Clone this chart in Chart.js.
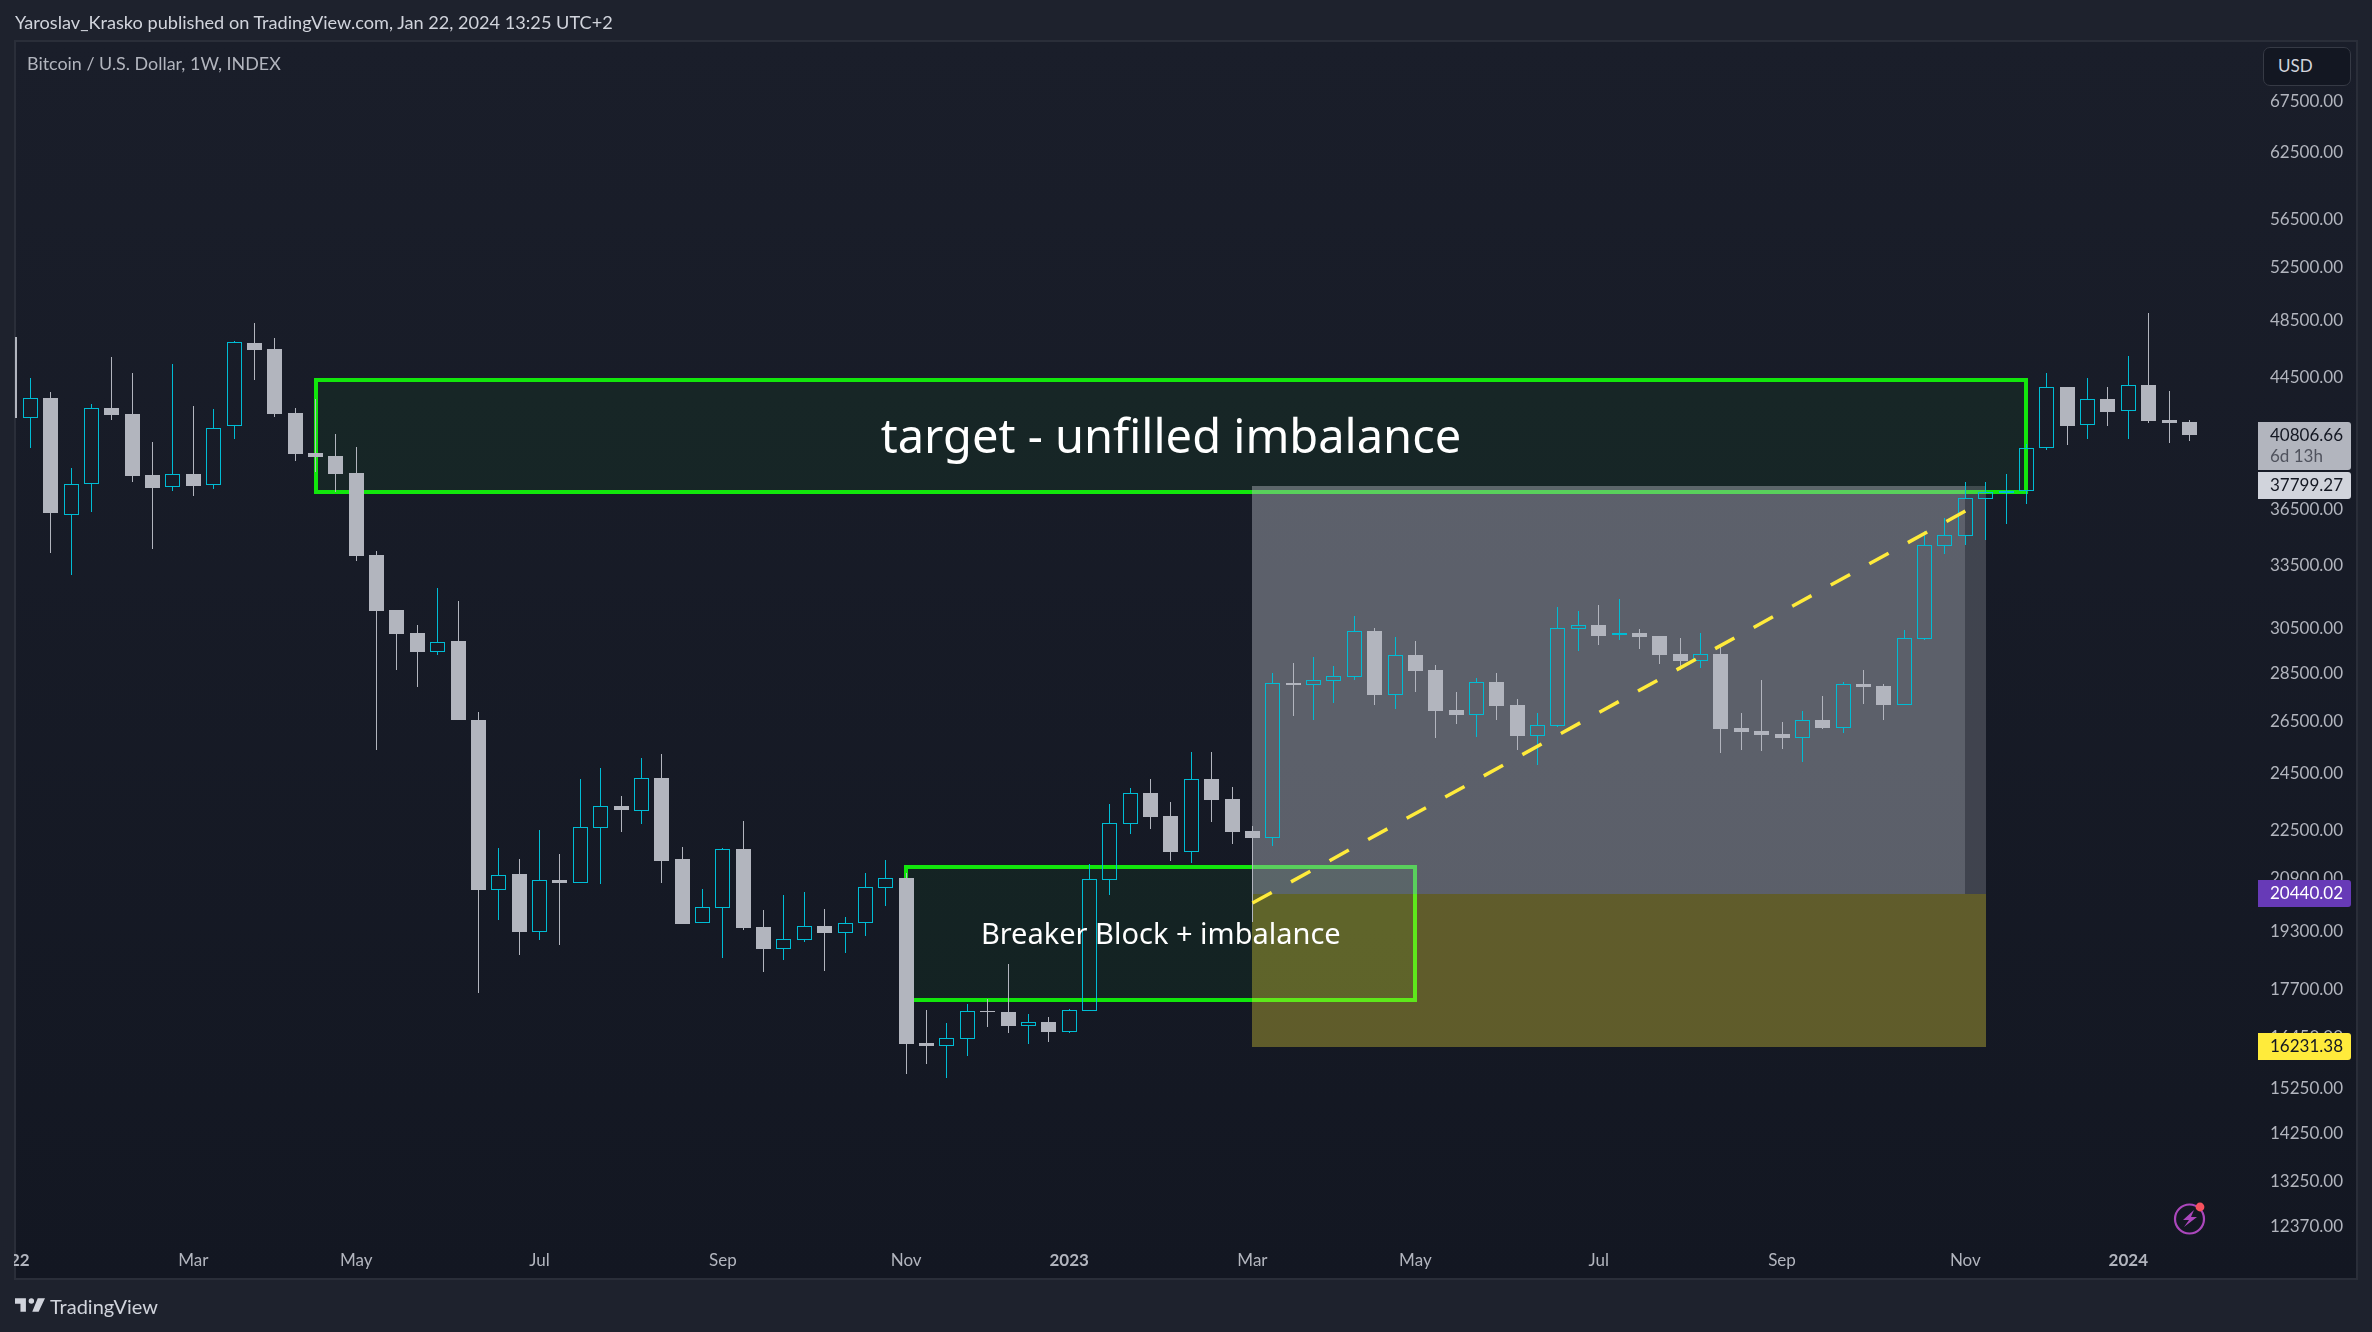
<!DOCTYPE html>
<html>
<head>
<meta charset="utf-8">
<title>Bitcoin / U.S. Dollar, 1W</title>
<script src="https://cdn.jsdelivr.net/npm/chart.js@4"></script>
<style>
  html, body { margin: 0; padding: 0; background: #1e222d; width: 2372px; height: 1332px; overflow: hidden; font-family: Lato, "Noto Sans", sans-serif; }
  #panel { position: absolute; left: 14px; top: 40px; width: 2344px; height: 1240px; box-sizing: border-box; border: 2px solid #2a2e39; background: linear-gradient(#1a1e2a, #131722); }
  canvas { position: absolute; left: 0; top: 0; }
  #mask { position: absolute; left: 0; top: 0; width: 14px; height: 1332px; background: #1e222d; }
  .txt { position: absolute; white-space: nowrap; }
  #published { left: 15px; top: 11px; font-size: 18.15px; color: #d1d4dc; }
  #symbol { left: 27px; top: 52px; font-size: 17.9px; color: #b2b5be; }
  #usd { left: 2263px; top: 47px; width: 88px; height: 39px; box-sizing: border-box; border: 1px solid #363a45; border-radius: 7px; background: #131722; color: #d1d4dc; font-size: 17px; line-height: 35px; padding-left: 14px; }
  #logo { position: absolute; left: 15px; top: 1298px; }
  #brand { left: 50px; top: 1294px; font-size: 20px; color: #d1d4dc; }
  #spark { position: absolute; left: 2170px; top: 1200px; }
</style>
</head>
<body>
<div id="panel"></div>
<canvas id="chart" width="2372" height="1332"></canvas>
<div id="mask"></div>
<div class="txt" id="published">Yaroslav_Krasko published on TradingView.com, Jan 22, 2024 13:25 UTC+2</div>
<div class="txt" id="symbol">Bitcoin / U.S. Dollar, 1W, INDEX</div>
<div class="txt" id="usd">USD</div>
<svg id="logo" width="30" height="14" viewBox="2 6 33 15"><path fill="#d1d4dc" d="M14 6H2v6h6v9h6V6Zm14 15h-7l6-15h8l-7 15Zm-8-9a3 3 0 1 0 0-6 3 3 0 0 0 0 6Z"/></svg>
<div class="txt" id="brand">TradingView</div>
<svg id="spark" width="40" height="40" viewBox="0 0 40 40">
  <circle cx="19.5" cy="19" r="14.5" fill="none" stroke="#ab47bc" stroke-width="2.2"/>
  <path fill="#ab47bc" d="M24 10 L13 20 H19 L14 27 L27 17 H21 Z"/>
  <circle cx="30" cy="7" r="4.4" fill="#f7525f"/>
</svg>
<script>
const opens = [
  47290, 41890, 43150, 36200, 37920, 42510, 42130, 38420, 37710, 38470,
  37820, 41340, 46860, 46440, 42180, 39720, 39530, 38520, 34060, 31350,
  30280, 29440, 29910, 26550, 20560, 21050, 19300, 20870, 20780, 22580,
  23330, 23170, 24330, 21540, 19560, 20010, 21860, 19440, 18810, 19070,
  19470, 19270, 19570, 20630, 20930, 16320, 16250, 16430, 17130, 17100,
  16750, 16840, 16600, 17140, 20880, 22710, 23790, 22980, 21770, 24300,
  23570, 22470, 22240, 28080, 28010, 28180, 28350, 30370, 27590, 29290,
  28630, 26960, 26770, 28120, 27160, 25940, 26330, 30470, 30640, 30190,
  30280, 30140, 29330, 29030, 29330, 26240, 26120, 26000, 25860, 26560,
  26250, 28040, 27950, 27180, 30020, 34530, 35060, 37070, 37410, 37480,
  39990, 43870, 41400, 43080, 42290, 44000, 41740, 41610
]
const highs = [
  47290, 44460, 43550, 38820, 42770, 45900, 44800, 40380, 45430, 42620,
  42450, 47020, 48300, 47220, 42510, 43060, 40860, 40080, 34250, 31350,
  30640, 32410, 31760, 26880, 21890, 21540, 22500, 21700, 24300, 24700,
  23680, 25080, 25230, 21930, 20590, 21890, 22800, 19940, 20400, 20490,
  19970, 19730, 21080, 21510, 21080, 17150, 16820, 17310, 17440, 18390,
  17050, 16970, 17180, 21380, 23400, 23970, 24300, 23470, 25310, 25310,
  24010, 22630, 28500, 28940, 29200, 28810, 31060, 30510, 30100, 29910,
  28850, 27700, 28290, 28500, 27410, 26840, 31490, 31300, 31580, 31870,
  30460, 30140, 30050, 30280, 29680, 26840, 28210, 26470, 26920, 27530,
  28120, 28630, 28040, 30420, 35310, 36010, 38020, 38020, 38470, 40250,
  44800, 43870, 44470, 43870, 45970, 49040, 43600, 41740
]
const lows = [
  41860, 39990, 34180, 33060, 36350, 41750, 38030, 34360, 37530, 37210,
  37630, 40580, 44340, 41920, 39230, 38580, 37450, 33760, 25380, 28630,
  27910, 29290, 26550, 17600, 19640, 18640, 19060, 18920, 20780, 20750,
  22430, 22700, 20770, 19530, 19560, 18550, 19350, 18160, 18500, 19000,
  18190, 18690, 19180, 20060, 15580, 15810, 15480, 16000, 16720, 16570,
  16300, 16350, 16570, 17140, 20410, 22370, 22530, 21470, 21410, 22770,
  22030, 19590, 21960, 26720, 26560, 27250, 28210, 27160, 27000, 27700,
  25850, 26390, 25890, 26560, 25380, 24820, 26280, 29470, 29730, 29960,
  29550, 28900, 28630, 28720, 25270, 25380, 25340, 25420, 24930, 26200,
  26040, 27200, 26560, 27180, 29960, 34110, 34570, 34830, 35680, 36770,
  39890, 40200, 40560, 41360, 40560, 41550, 40320, 40440
]
const closes = [
  41860, 43120, 36280, 37920, 42480, 42070, 38360, 37690, 38450, 37790,
  41260, 46930, 46370, 42130, 39670, 39480, 38470, 33990, 31300, 30240,
  29410, 29890, 26550, 20550, 21040, 19290, 20860, 20770, 22590, 23320,
  23190, 24320, 21470, 19530, 20030, 21850, 19410, 18800, 19080, 19460,
  19270, 19570, 20640, 20920, 16300, 16250, 16440, 17120, 17110, 16740,
  16840, 16600, 17150, 20890, 22730, 23780, 22950, 21760, 24290, 23540,
  22430, 22230, 28070, 28000, 28190, 28360, 30360, 27590, 29280, 28590,
  26920, 26760, 28110, 27120, 25920, 26340, 30490, 30630, 30140, 30280,
  30100, 29290, 29030, 29320, 26200, 26080, 25960, 25850, 26540, 26240,
  28030, 27910, 27160, 30040, 34560, 35080, 37090, 37430, 37490, 39990,
  43850, 41360, 43060, 42250, 43980, 41670, 41550, 40806.66
]

// bar index of each label on the time axis
const timeTickBars = [0, 9, 17, 26, 35, 44, 52, 61, 69, 78, 87, 96, 104]
const timeTickLabels = ["2022", "Mar", "May", "Jul", "Sep", "Nov", "2023", "Mar", "May", "Jul", "Sep", "Nov", "2024"]
const priceTicks = [67500, 62500, 56500, 52500, 48500, 44500, 36500, 33500, 30500, 28500, 26500, 24500, 22500, 20900, 19300, 17700, 16450, 15250, 14250, 13250, 12370]

const targetBox = { from: 15, to: 99, top: 44330, bottom: 37450, label: "target - unfilled imbalance", font: "47px 'Noto Sans'", nudge: 4 }
const breakerBox = { from: 44, to: 69, top: 21280, bottom: 17410, label: "Breaker Block + imbalance", font: "29px 'Noto Sans'", nudge: 2 }
const rangeZone = { from: 61, mid: 96, to: 97, top: 37799.27, middle: 20440.02, bottom: 16231.38 }
const dashedLine = { from: 61, to: 96, start: 20155, end: 36390 }

const UP = "#00bcd4"
const DOWN = "#b2b5be"
const GREEN = "#12e60c"
const TICK_FONT = "Lato"

const isUp = (i) => closes[i] >= opens[i]
const pointColor = (ctx) => (isUp(ctx.dataIndex) ? UP : DOWN)

const bodies = opens.map((o, i) => ({ x: i, y: [o, closes[i]] }))
const upperWicks = opens.map((o, i) => ({ x: i, y: [Math.max(o, closes[i]), highs[i]] }))
const lowerWicks = opens.map((o, i) => ({ x: i, y: [lows[i], Math.min(o, closes[i])] }))

// candles look blurry on fractional pixels, so snap the bar elements
const snapBars = (chart) => {
  chart.getSortedVisibleDatasetMetas().forEach((meta) => {
    meta.data.forEach((el) => {
      const w = Math.round(el.width)
      el.width = w
      el.x = Math.round(el.x - w / 2) + w / 2
      const base = Math.round(el.base)
      let head = Math.round(el.y)
      if (meta.label === "body" && head === base) head = base - 1
      el.base = base
      el.y = head
      el.height = head - base
    })
  })
}

const drawBox = (ctx, x, y, box) => {
  const left = Math.round(x.getPixelForValue(box.from))
  const right = Math.round(x.getPixelForValue(box.to))
  const top = Math.round(y.getPixelForValue(box.top))
  const bottom = Math.round(y.getPixelForValue(box.bottom))
  ctx.fillStyle = "rgba(18, 230, 12, 0.05)"
  ctx.fillRect(left, top, right - left, bottom - top)
  ctx.strokeStyle = GREEN
  ctx.lineWidth = 4
  ctx.strokeRect(left, top, right - left, bottom - top)
}

const drawBoxLabel = (ctx, x, y, box) => {
  const cx = (x.getPixelForValue(box.from) + x.getPixelForValue(box.to)) / 2
  const cy = (y.getPixelForValue(box.top) + y.getPixelForValue(box.bottom)) / 2
  ctx.font = box.font
  ctx.fillStyle = "#ffffff"
  ctx.textAlign = "center"
  ctx.textBaseline = "middle"
  ctx.fillText(box.label, cx, cy + box.nudge)
}

const drawZone = (ctx, x, y) => {
  const z = rangeZone
  const l = Math.round(x.getPixelForValue(z.from))
  const m = Math.round(x.getPixelForValue(z.mid))
  const r = Math.round(x.getPixelForValue(z.to))
  const t = Math.round(y.getPixelForValue(z.top))
  const c = Math.round(y.getPixelForValue(z.middle))
  const b = Math.round(y.getPixelForValue(z.bottom))
  ctx.fillStyle = "rgba(178, 181, 190, 0.45)"
  ctx.fillRect(l, t, m - l, c - t)
  ctx.fillStyle = "rgba(178, 181, 190, 0.27)"
  ctx.fillRect(m, t, r - m, c - t)
  ctx.fillStyle = "rgba(255, 235, 59, 0.32)"
  ctx.fillRect(l, c, r - l, b - c)
}

const priceLabel = (ctx, y, price, bg, fg, extra) => {
  const py = y.getPixelForValue(price)
  const h = 27
  const top = Math.round(py - h / 2)
  const full = extra ? 48 : h
  ctx.fillStyle = bg
  ctx.beginPath()
  ctx.roundRect(2258, top, 93, full, [0, 3, 3, 0])
  ctx.fill()
  ctx.font = "17px " + TICK_FONT
  ctx.fillStyle = fg
  ctx.textAlign = "right"
  ctx.textBaseline = "middle"
  ctx.fillText(price.toFixed(2), 2343, top + h / 2)
  if (extra) {
    ctx.fillStyle = "#50535e"
    ctx.textAlign = "left"
    ctx.fillText(extra, 2270, top + 35)
  }
}

const overlays = {
  id: "overlays",
  beforeDatasetsDraw(chart) {
    snapBars(chart)
    const { ctx, chartArea: a, scales: { x, y } } = chart
    ctx.save()
    ctx.beginPath()
    ctx.rect(a.left, a.top, a.right - a.left, a.bottom - a.top)
    ctx.clip()
    drawBox(ctx, x, y, targetBox)
    drawBox(ctx, x, y, breakerBox)
    drawZone(ctx, x, y)
    ctx.restore()
  },
  afterDatasetsDraw(chart) {
    const { ctx, scales: { x, y } } = chart
    ctx.save()
    ctx.strokeStyle = "#ffeb3b"
    ctx.lineWidth = 3.5
    ctx.setLineDash([22, 22])
    ctx.beginPath()
    ctx.moveTo(x.getPixelForValue(dashedLine.from), y.getPixelForValue(dashedLine.start))
    ctx.lineTo(x.getPixelForValue(dashedLine.to), y.getPixelForValue(dashedLine.end))
    ctx.stroke()
    ctx.setLineDash([])
    drawBoxLabel(ctx, x, y, targetBox)
    drawBoxLabel(ctx, x, y, breakerBox)
    ctx.restore()
  },
  afterDraw(chart) {
    const { ctx, scales: { y } } = chart
    ctx.save()
    priceLabel(ctx, y, 37799.27, "#d1d4dc", "#131722")
    priceLabel(ctx, y, closes[closes.length - 1], "#b2b5be", "#131722", "6d 13h")
    priceLabel(ctx, y, 20440.02, "#673ab7", "#ffffff")
    priceLabel(ctx, y, 16231.38, "#ffeb3b", "#131722")
    ctx.restore()
  }
}

new Chart(document.getElementById("chart"), {
  type: "bar",
  data: {
    datasets: [
      { label: "upper wick", data: upperWicks, maxBarThickness: 1, backgroundColor: pointColor, borderWidth: 0 },
      { label: "lower wick", data: lowerWicks, maxBarThickness: 1, backgroundColor: pointColor, borderWidth: 0 },
      {
        label: "body",
        data: bodies,
        maxBarThickness: 15,
        backgroundColor: (ctx) => (isUp(ctx.dataIndex) ? "rgba(0, 0, 0, 0)" : DOWN),
        borderColor: pointColor,
        borderWidth: (ctx) => (isUp(ctx.dataIndex) ? 1 : 0),
        borderSkipped: false
      }
    ]
  },
  options: {
    responsive: false,
    animation: false,
    events: [],
    grouped: false,
    inflateAmount: 0,
    barPercentage: 1,
    categoryPercentage: 1,
    layout: { padding: { left: 15, right: 29, top: 41, bottom: 54 } },
    plugins: { legend: { display: false }, tooltip: { enabled: false }, title: { display: false } },
    scales: {
      x: {
        type: "linear",
        offset: false,
        min: 0.2455,
        max: 110.32,
        grid: { display: false, offset: false, drawTicks: false },
        border: { display: false },
        afterBuildTicks: (s) => { s.ticks = timeTickBars.map((value) => ({ value })) },
        afterFit: (s) => { s.height = 34; s.paddingLeft = 0; s.paddingRight = 0 },
        ticks: {
          autoSkip: false,
          maxRotation: 0,
          padding: 6,
          color: "#b2b5be",
          font: (ctx) => ({ family: TICK_FONT, size: 17, weight: /^\d/.test(timeTickLabels[ctx.index]) ? "bold" : "normal" }),
          callback: (v, i) => timeTickLabels[i]
        }
      },
      y: {
        type: "logarithmic",
        position: "right",
        beginAtZero: false,
        min: 12057,
        max: 73898,
        grid: { display: false },
        border: { display: false },
        afterBuildTicks: (s) => { s.ticks = priceTicks.map((value) => ({ value })) },
        afterFit: (s) => { s.width = 86; s.paddingTop = 0; s.paddingBottom = 0 },
        ticks: {
          autoSkip: false,
          crossAlign: "far",
          color: "#b2b5be",
          font: { family: TICK_FONT, size: 17 },
          callback: (v) => Number(v).toFixed(2)
        }
      }
    }
  },
  plugins: [overlays]
})
</script>
</body>
</html>
